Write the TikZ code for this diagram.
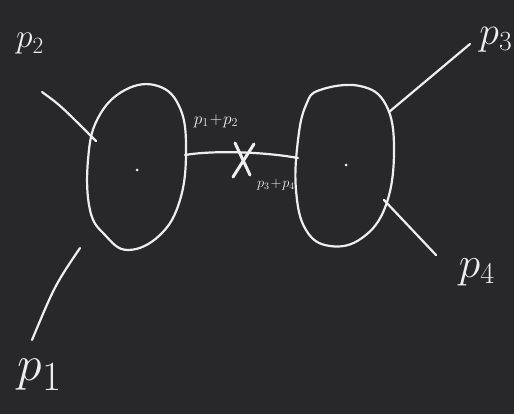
\documentclass[tikz,border=0pt]{standalone}
\usetikzlibrary{calc}
\definecolor{board}{RGB}{40,40,43}
\definecolor{chalk}{RGB}{238,238,238}
\tikzset{
  chalkline/.style={draw=chalk, line width=2.2pt, line cap=round, line join=round},
  lbl/.style={text=chalk, inner sep=0pt},
  dotc/.style={circle, fill=chalk!60, inner sep=0pt, minimum size=3pt}
}
\begin{document}
\begin{tikzpicture}[x=1pt,y=-1pt]
\fill[board] (0,0) rectangle (514,414);
\useasboundingbox (0,0) rectangle (514,414);
% blobs
\draw[chalkline] plot[smooth cycle, tension=0.7] coordinates {(125,90) (158,86) (180,108) (186,150) (180,200) (160,235) (128,250) (105,235) (90,210) (88,160) (98,118)};
\draw[chalkline] plot[smooth cycle, tension=0.7] coordinates {(320,90) (360,86) (386,105) (394,150) (386,205) (362,238) (330,246) (306,230) (296,190) (298,140) (306,105)};
\node[dotc] (cl) at (137,170) {};
\node[dotc] (cr) at (346,165) {};
% external legs
\coordinate (a2) at (42,92); \coordinate (b2) at (96,141);
\coordinate (a1) at (80,248); \coordinate (b1) at (32,340);
\coordinate (a3) at (389,112); \coordinate (b3) at (470,44);
\coordinate (a4) at (384,200); \coordinate (b4) at (436,255);
\draw[chalkline] (a2) .. controls (60,105) .. (b2);
\draw[chalkline] (a1) .. controls (55,285) .. (b1);
\draw[chalkline] (a3) -- (b3);
\draw[chalkline] (a4) .. controls (410,228) .. (b4);
% propagator
\coordinate (pl) at (185,155); \coordinate (pr) at (298,158);
\draw[chalkline] (pl) .. controls (215,150) and (265,152) .. (pr);
\coordinate (xc) at (242,160);
\draw[chalkline, line width=3pt] ($(xc)+(-7,-17)$) -- ($(xc)+(8,15)$);
\draw[chalkline, line width=3pt] ($(xc)+(12,-16)$) -- ($(xc)+(-9,17)$);
% labels
\node[lbl, font=\Huge, scale=1.35] (l2) at (30,44) {$p_{\scriptscriptstyle 2}$};
\node[lbl, font=\Huge, scale=1.6] (l3) at (496,40) {$p_{\scriptscriptstyle 3}$};
\node[lbl, font=\Huge, scale=1.75] (l4) at (477,272) {$p_{\scriptscriptstyle 4}$};
\node[lbl, font=\Huge, scale=2] (l1) at (40,375) {$p_{1}$};
\node[lbl, font=\LARGE] (l12) at (216,121) {$p_1\!+\!p_2$};
\node[lbl, font=\Large] (l34) at (276,185) {$p_3\!+\!p_4$};
\end{tikzpicture}
\end{document}
